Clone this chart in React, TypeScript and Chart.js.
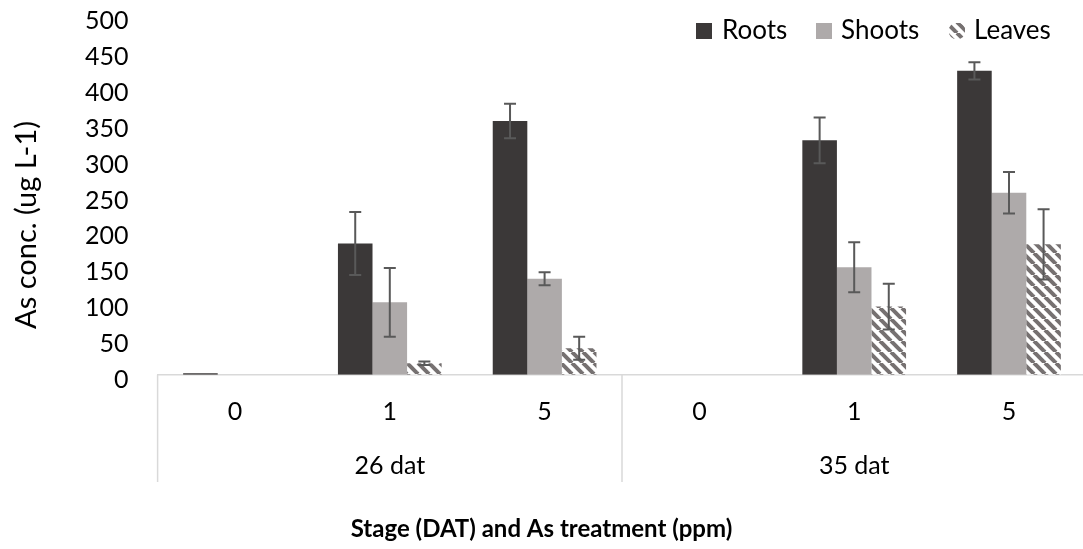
import React, { useEffect, useRef } from 'react';
import { Chart, registerables } from 'chart.js';

Chart.register(...registerables);

// ---- data ----
const treatments = ['0', '1', '5', '0', '1', '5'];
const stages = ['26 dat', '35 dat'];
const seriesNames = ['Roots', 'Shoots', 'Leaves'];
const roots = [2, 183, 354, 0, 327, 424];
const shoots = [0, 101, 134, 0, 150, 254];
const leaves = [0, 16, 37, 0, 95, 182];
const rootsErr = [0, 44, 24, 0, 32, 12];
const shootsErr = [0, 48, 9, 0, 35, 29];
const leavesErr = [0, 2.5, 16, 0, 32, 49];
const yTickValues = [0, 50, 100, 150, 200, 250, 300, 350, 400, 450, 500];

const xTitle = 'Stage (DAT) and As treatment (ppm)';
const yTitle = 'As conc. (ug L-1)';

const FONT = 'Lato, "Open Sans", sans-serif';
const ROOTS_COLOR = '#3b3838';
const SHOOTS_COLOR = '#aeaaaa';
const STRIPE_COLOR = '#767171';
const ERR_COLOR = '#595959';
const AXIS_COLOR = '#d9d9d9';

function makeStripePattern(ctx: CanvasRenderingContext2D): CanvasPattern | string {
  const s = 11;
  const c = document.createElement('canvas');
  c.width = s;
  c.height = s;
  const g = c.getContext('2d');
  if (!g) return STRIPE_COLOR;
  g.fillStyle = '#ffffff';
  g.fillRect(0, 0, s, s);
  g.strokeStyle = STRIPE_COLOR;
  g.lineWidth = 4;
  for (let k = -1; k <= 1; k++) {
    g.beginPath();
    g.moveTo(k * s, 0);
    g.lineTo(k * s + s, s);
    g.stroke();
  }
  const p = ctx.createPattern(c, 'repeat');
  return p || STRIPE_COLOR;
}

export default function App() {
  const ref = useRef<HTMLCanvasElement | null>(null);

  useEffect(() => {
    const canvas = ref.current;
    if (!canvas) return;
    const ctx = canvas.getContext('2d');
    if (!ctx) return;
    const stripe = makeStripePattern(ctx);
    const errs = [rootsErr, shootsErr, leavesErr];

    const extras = {
      id: 'extras',
      afterDatasetsDraw(chart: any) {
        const c = chart.ctx;
        const y = chart.scales.y;
        c.save();
        c.strokeStyle = ERR_COLOR;
        c.lineWidth = 2;
        chart.data.datasets.forEach((ds: any, i: number) => {
          const meta = chart.getDatasetMeta(i);
          meta.data.forEach((bar: any, j: number) => {
            const e = errs[i][j];
            if (!e) return;
            const v = ds.data[j];
            const x = bar.x;
            const t = y.getPixelForValue(v + e);
            const b = y.getPixelForValue(v - e);
            c.beginPath();
            c.moveTo(x, t);
            c.lineTo(x, b);
            c.moveTo(x - 6, t);
            c.lineTo(x + 6, t);
            c.moveTo(x - 6, b);
            c.lineTo(x + 6, b);
            c.stroke();
          });
        });
        c.restore();
      },
      afterDraw(chart: any) {
        const c = chart.ctx;
        const x = chart.scales.x;
        const area = chart.chartArea;
        const axisY = area.bottom;
        const lowY = 482;
        c.save();
        // category separators
        c.strokeStyle = AXIS_COLOR;
        c.lineWidth = 1.5;
        const sepXs = [
          area.left,
          (x.getPixelForValue(2) + x.getPixelForValue(3)) / 2,
          area.right,
        ];
        sepXs.forEach((sx) => {
          c.beginPath();
          c.moveTo(sx, axisY);
          c.lineTo(sx, lowY);
          c.stroke();
        });
        // second-level labels
        c.fillStyle = '#000';
        c.font = `25px ${FONT}`;
        c.textAlign = 'center';
        c.textBaseline = 'middle';
        stages.forEach((s, k) => {
          c.fillText(s, x.getPixelForValue(k * 3 + 1), 466);
        });
        // x title
        c.font = `bold 24px ${FONT}`;
        c.fillText(xTitle, 541.5, 529);
        // y title
        c.save();
        c.translate(27, 225);
        c.rotate(-Math.PI / 2);
        c.font = `29px ${FONT}`;
        c.fillText(yTitle, 0, 0);
        c.restore();
        // legend
        const items = [
          { name: seriesNames[0], fill: ROOTS_COLOR, bx: 696, tx: 722, round: false },
          { name: seriesNames[1], fill: SHOOTS_COLOR, bx: 816, tx: 841, round: false },
          { name: seriesNames[2], fill: stripe, bx: 949, tx: 974, round: true },
        ];
        c.font = `26px ${FONT}`;
        c.textAlign = 'left';
        items.forEach((it) => {
          c.save();
          if (it.round) {
            c.beginPath();
            c.arc(it.bx + 8, 31, 8.5, 0, Math.PI * 2);
            c.clip();
          }
          c.fillStyle = it.fill as any;
          c.fillRect(it.bx, 23, 16, 16);
          c.restore();
          c.fillStyle = '#000';
          c.fillText(it.name, it.tx, 31);
        });
        c.restore();
      },
    };

    const chart = new Chart(ctx, {
      type: 'bar',
      data: {
        labels: treatments,
        datasets: [
          { label: seriesNames[0], data: roots, backgroundColor: ROOTS_COLOR, borderWidth: 0 },
          { label: seriesNames[1], data: shoots, backgroundColor: SHOOTS_COLOR, borderWidth: 0 },
          { label: seriesNames[2], data: leaves, backgroundColor: stripe as any, borderWidth: 0 },
        ],
      },
      options: {
        responsive: false,
        animation: false,
        devicePixelRatio: 1,
        layout: { padding: { top: 16.4, left: 0, right: 8.6, bottom: 0 } },
        datasets: { bar: { categoryPercentage: 0.67, barPercentage: 1 } },
        plugins: {
          legend: { display: false },
          tooltip: { enabled: false },
          title: { display: false },
        },
        scales: {
          x: {
            grid: { display: false, drawTicks: false },
            border: { display: true, color: AXIS_COLOR, width: 1.5 },
            ticks: {
              color: '#000',
              font: { family: FONT, size: 25 },
              padding: 22,
              maxRotation: 0,
              autoSkip: false,
            },
            afterFit: (s: any) => {
              s.height = 549 - 374.7;
              s.paddingLeft = 0;
              s.paddingRight = 0;
            },
          },
          y: {
            min: 0,
            max: 500,
            afterBuildTicks: (s: any) => {
              s.ticks = yTickValues.map((v) => ({ value: v }));
            },
            grid: { display: false, drawTicks: false },
            border: { display: false },
            ticks: {
              color: '#000',
              font: { family: FONT, size: 25 },
              padding: 29,
              labelOffset: 5,
            },
            afterFit: (s: any) => {
              s.width = 157.6;
              s.paddingTop = 0;
              s.paddingBottom = 0;
            },
          },
        },
      },
      plugins: [extras],
    } as any);

    return () => chart.destroy();
  }, []);

  return (
    <div
      style={{
        position: 'fixed',
        left: 0,
        top: 0,
        width: 1083,
        height: 549,
        overflow: 'hidden',
        background: '#fff',
      }}
    >
      <canvas ref={ref} width={1095} height={549} style={{ display: 'block' }} />
    </div>
  );
}
